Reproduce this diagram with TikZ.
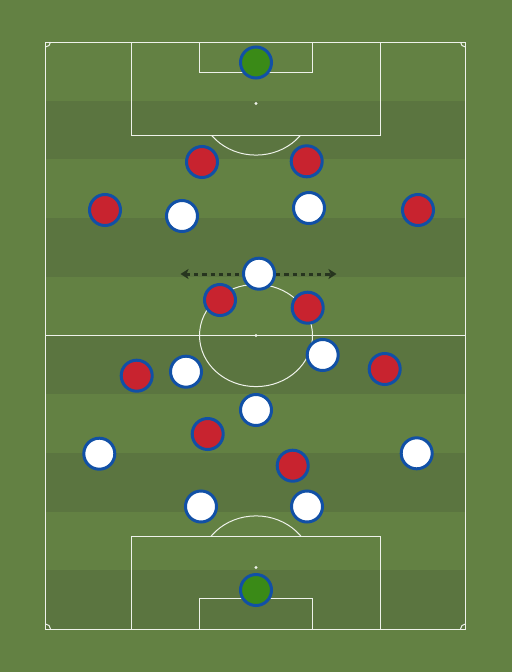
\documentclass[tikz,border=0pt]{standalone}
\usetikzlibrary{arrows.meta,shadows}
\definecolor{grass}{HTML}{638143}
\definecolor{grassdark}{HTML}{5B7540}
\definecolor{kitred}{HTML}{C8232F}
\definecolor{kitblue}{HTML}{1150A6}
\definecolor{kitgreen}{HTML}{3A8A17}
\definecolor{arrowdark}{HTML}{27351F}
\definecolor{pitchline}{HTML}{EEF2EA}
\begin{document}
\begin{tikzpicture}[x=1pt,y=-1pt,
  pline/.style={draw=pitchline,line width=1pt},
  player/.style={circle,minimum size=31pt,inner sep=0pt,draw=kitblue,line width=3pt,
    drop shadow={opacity=0.25,shadow xshift=0.6pt,shadow yshift=-1.2pt}},
  redp/.style={player,fill=kitred},
  whitep/.style={player,fill=white},
  keeper/.style={player,fill=kitgreen},
  runarrow/.style={draw=arrowdark,line width=3pt,dash pattern=on 4.2pt off 4pt,
    {Stealth[length=8pt,width=10pt,inset=2pt]}-{Stealth[length=8pt,width=10pt,inset=2pt]}}]
\useasboundingbox (0,0) rectangle (512,672);
\fill[grass] (0,0) rectangle (512,672);
% stripes
\foreach \i in {1,3,5,7,9}
  \fill[grassdark] (45.5,{42+\i*58.7}) rectangle (465.5,{42+(\i+1)*58.7});
% pitch markings
\draw[pline] (45.5,42) rectangle (465.5,629);
\draw[pline] (45.5,335.5) -- (465.5,335.5);
\draw[pline] (256,335.5) ellipse [x radius=56.5, y radius=51.1];
\fill[pitchline] (256,335.5) circle [radius=1.7];
% top
\draw[pline] (131.4,42) rectangle (380.6,135);
\draw[pline] (199.4,42) rectangle (312.6,72.7);
\fill[pitchline] (256,103.5) circle [radius=1.7];
\begin{scope}
  \clip (0,135) rectangle (512,220);
  \draw[pline] (256,103.5) ellipse [x radius=56.5, y radius=51.6];
\end{scope}
% bottom
\draw[pline] (131.4,536) rectangle (380.6,629);
\draw[pline] (199.4,598.3) rectangle (312.6,629);
\fill[pitchline] (256,567.5) circle [radius=1.7];
\begin{scope}
  \clip (0,536) rectangle (512,450);
  \draw[pline] (256,567.5) ellipse [x radius=56.5, y radius=51.6];
\end{scope}
% corner arcs
\draw[pline] (50.5,42) arc [start angle=0, end angle=90, radius=5];
\draw[pline] (465.5,47) arc [start angle=90, end angle=180, radius=5];
\draw[pline] (45.5,624) arc [start angle=270, end angle=360, radius=5];
\draw[pline] (460.5,629) arc [start angle=180, end angle=270, radius=5];
% run arrow
\coordinate (al) at (180.5,274);
\coordinate (ar) at (336.5,274);
\draw[runarrow] (al) -- (ar);
% top team
\node[keeper] (gkt) at (256,62.5) {};
\node[redp] (r1) at (202,162) {};
\node[redp] (r2) at (306.7,161.3) {};
\node[redp] (r3) at (105,210) {};
\node[redp] (r4) at (418,210) {};
\node[redp] (r5) at (220,300) {};
\node[redp] (r6) at (307.7,307.7) {};
\node[redp] (r7) at (136.7,375.7) {};
\node[redp] (r8) at (384.7,369) {};
\node[redp] (r9) at (207.7,434) {};
\node[redp] (r10) at (292.7,465.7) {};
% bottom team
\node[whitep] (w1) at (182,216) {};
\node[whitep] (w2) at (309,208) {};
\node[whitep] (w3) at (259,273.7) {};
\node[whitep] (w4) at (322.7,355) {};
\node[whitep] (w5) at (186,371.7) {};
\node[whitep] (w6) at (256,410) {};
\node[whitep] (w7) at (99.3,453.7) {};
\node[whitep] (w8) at (416.7,453.3) {};
\node[whitep] (w9) at (201,506.5) {};
\node[whitep] (w10) at (307,506.5) {};
\node[keeper] (gkb) at (256,590) {};
\end{tikzpicture}
\end{document}
